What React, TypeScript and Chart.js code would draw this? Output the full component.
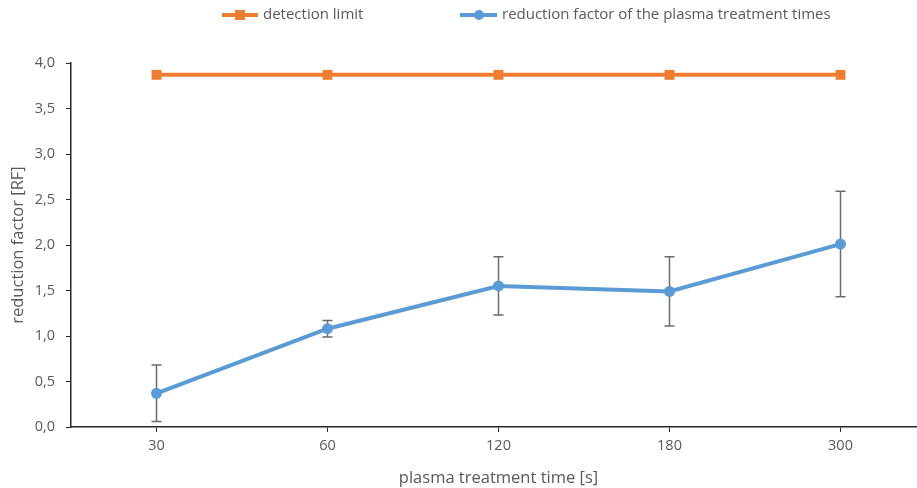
import React, { useEffect, useRef } from "react";
import { Chart, registerables } from "chart.js";

Chart.register(...registerables);

const categories = ["30", "60", "120", "180", "300"];
const detectionLimit = [3.87, 3.87, 3.87, 3.87, 3.87];
const reductionFactor = [0.37, 1.08, 1.55, 1.49, 2.01];
const reductionError = [0.31, 0.09, 0.32, 0.38, 0.58];
const yTicks = [0, 0.5, 1, 1.5, 2, 2.5, 3, 3.5, 4];

const FONT = "Open Sans";
const TEXT = "#595959";
const ORANGE = "#ED7D31";
const BLUE = "#5B9BD5";

const errorBars = {
  id: "errorBars",
  beforeDatasetsDraw(chart: any) {
    const x = chart.scales.x;
    const y = chart.scales.y;
    const ctx = chart.ctx;
    ctx.save();
    ctx.strokeStyle = "#6b6b6b";
    ctx.lineWidth = 1.5;
    reductionFactor.forEach((v: number, i: number) => {
      const e = reductionError[i];
      const top = y.getPixelForValue(v + e);
      const bot = y.getPixelForValue(v - e);
      const px = x.getPixelForValue(i);
      ctx.beginPath();
      ctx.moveTo(px, top);
      ctx.lineTo(px, bot);
      ctx.moveTo(px - 5, top);
      ctx.lineTo(px + 5, top);
      ctx.moveTo(px - 5, bot);
      ctx.lineTo(px + 5, bot);
      ctx.stroke();
    });
    ctx.restore();
  },
  afterDraw(chart: any) {
    const ctx = chart.ctx;
    ctx.save();
    ctx.font = `15px "${FONT}"`;
    ctx.fillStyle = TEXT;
    ctx.textBaseline = "middle";
    const ly = 15;
    // orange
    ctx.strokeStyle = ORANGE;
    ctx.lineWidth = 4;
    ctx.beginPath();
    ctx.moveTo(222, ly);
    ctx.lineTo(258, ly);
    ctx.stroke();
    ctx.fillStyle = ORANGE;
    ctx.fillRect(240 - 5, ly - 5, 10, 10);
    ctx.fillStyle = TEXT;
    ctx.fillText("detection limit", 263, ly);
    // blue
    ctx.strokeStyle = BLUE;
    ctx.beginPath();
    ctx.moveTo(460, ly);
    ctx.lineTo(497, ly);
    ctx.stroke();
    ctx.fillStyle = BLUE;
    ctx.beginPath();
    ctx.arc(479, ly, 5, 0, Math.PI * 2);
    ctx.fill();
    ctx.fillStyle = TEXT;
    ctx.fillText("reduction factor of the plasma treatment times", 502, ly);
    ctx.restore();
  },
};

export default function App() {
  const ref = useRef<HTMLCanvasElement>(null);
  useEffect(() => {
    if (!ref.current) return;
    const chart = new Chart(ref.current, {
      type: "line",
      data: {
        labels: categories,
        datasets: [
          {
            label: "detection limit",
            data: detectionLimit,
            borderColor: ORANGE,
            backgroundColor: ORANGE,
            borderWidth: 4,
            pointStyle: "rect",
            pointRadius: 7,
            pointBorderWidth: 0,
          },
          {
            label: "reduction factor of the plasma treatment times",
            data: reductionFactor,
            borderColor: BLUE,
            backgroundColor: BLUE,
            borderWidth: 4,
            pointStyle: "circle",
            pointRadius: 5.5,
            pointBorderWidth: 0,
          },
        ],
      },
      options: {
        animation: false,
        responsive: false,
        maintainAspectRatio: false,
        layout: { padding: { top: 63, left: 0, right: 0, bottom: 0 } },
        plugins: { legend: { display: false }, tooltip: { enabled: false } },
        scales: {
          x: {
            type: "category",
            offset: true,
            grid: {
              display: true,
              drawOnChartArea: false,
              drawTicks: true,
              tickLength: 5,
              color: "#262626",
              offset: false,
            },
            border: { display: true, color: "#262626", width: 1.5 },
            ticks: { color: TEXT, font: { family: FONT, size: 14.5 }, padding: 5 },
            title: {
              display: true,
              text: "plasma treatment time [s]",
              color: TEXT,
              font: { family: FONT, size: 16.5 },
              padding: { top: 6, bottom: 0 },
            },
            afterFit(scale: any) {
              scale.height = 61;
            },
          },
          y: {
            min: 0,
            max: 4,
            afterBuildTicks(scale: any) {
              scale.ticks = yTicks.map((v) => ({ value: v }));
            },
            grid: {
              display: true,
              drawOnChartArea: false,
              drawTicks: true,
              tickLength: 5,
              color: "#262626",
            },
            border: { display: true, color: "#262626", width: 1.5 },
            ticks: {
              color: TEXT,
              font: { family: FONT, size: 14.5 },
              padding: 11,
              callback: (v: any) => Number(v).toFixed(1).replace(".", ","),
            },
            title: {
              display: true,
              text: "reduction factor [RF]",
              color: TEXT,
              font: { family: FONT, size: 16.5 },
              padding: { top: 8, bottom: 0 },
            },
            afterFit(scale: any) {
              scale.width = 71;
            },
          },
        },
      },
      plugins: [errorBars],
    } as any);
    return () => chart.destroy();
  }, []);
  return (
    <div
      style={{
        position: "fixed",
        left: 0,
        top: 0,
        width: 917,
        height: 488,
        overflow: "hidden",
        background: "#fff",
      }}
    >
      <canvas ref={ref} width={933} height={488} style={{ display: "block" }} />
    </div>
  );
}
